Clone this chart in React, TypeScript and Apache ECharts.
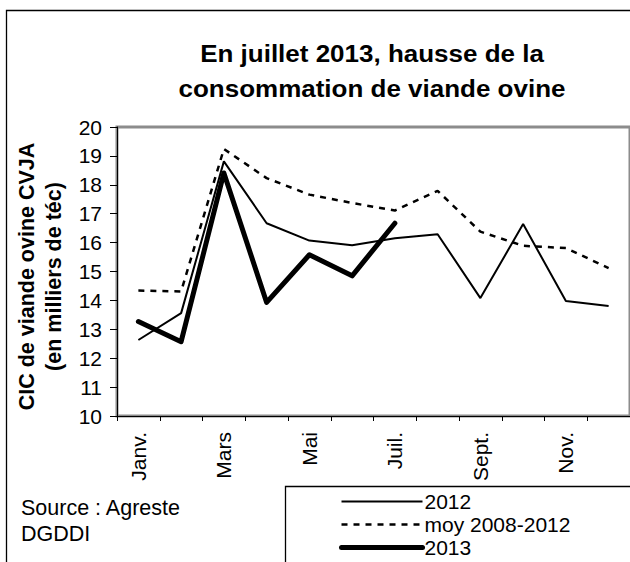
import React, { useEffect, useRef } from 'react';
import * as echarts from 'echarts';

const months = ['Janv.', 'Févr.', 'Mars', 'Avril', 'Mai', 'Juin', 'Juil.', 'Août', 'Sept.', 'Oct.', 'Nov.', 'Déc.'];
const values2012 = [12.63, 13.56, 18.81, 16.67, 16.07, 15.91, 16.15, 16.29, 14.08, 16.64, 13.98, 13.81];
const valuesMoy = [14.34, 14.31, 19.24, 18.23, 17.66, 17.37, 17.11, 17.79, 16.38, 15.89, 15.81, 15.12];
const values2013 = [13.27, 12.57, 18.41, 13.93, 15.58, 14.85, 16.67, null, null, null, null, null];
const seriesNames = ['2012', 'moy 2008-2012', '2013'];
const yMin = 10;
const yMax = 20;
const yStep = 1;
const titleLines = ['En juillet 2013, hausse de la', 'consommation de viande ovine'];
const yAxisTitle = ['CIC de viande ovine CVJA', '(en milliers de téc)'];
const sourceLines = ['Source : Agreste', 'DGDDI'];

const FONT = '"Liberation Sans", Arial, sans-serif';

export default function App() {
  const ref = useRef<HTMLDivElement>(null);
  useEffect(() => {
    const chart = echarts.init(ref.current!, null, { renderer: 'svg' });
    chart.setOption({
      animation: false,
      textStyle: { fontFamily: FONT, color: '#000' },
      grid: {
        left: 117, top: 127, width: 514, height: 289,
        show: true, borderColor: '#8c8c8c', borderWidth: 3, backgroundColor: '#fff',
      },
      xAxis: {
        type: 'category',
        data: months,
        boundaryGap: true,
        axisLine: { show: true, lineStyle: { color: '#000', width: 1 } },
        axisTick: { show: true, interval: 0, length: 5, lineStyle: { color: '#000' } },
        axisLabel: { interval: 1, rotate: 90, fontSize: 21, color: '#000', margin: 16, fontFamily: FONT },
        splitLine: { show: false },
      },
      yAxis: {
        type: 'value',
        min: yMin, max: yMax, interval: yStep,
        splitLine: { show: false },
        axisLine: { show: true, lineStyle: { color: '#000', width: 1 } },
        axisTick: { show: true, length: 7, lineStyle: { color: '#000' } },
        axisLabel: { fontSize: 21, color: '#000', margin: 15, fontFamily: FONT },
        name: yAxisTitle.join('\n'),
        nameLocation: 'middle',
        nameGap: 39,
        nameTextStyle: { fontSize: 21.5, fontWeight: 'bold', lineHeight: 27, color: '#000', fontFamily: FONT, padding: [0, 10, 0, 0] },
      },
      legend: {
        orient: 'vertical',
        left: 339, top: 490,
        padding: 0,
        itemGap: 0,
        itemWidth: 81, itemHeight: 10,
        itemStyle: { opacity: 0 },
        data: [
          { name: seriesNames[0], lineStyle: { width: 2 }, itemStyle: { opacity: 0 } },
          { name: seriesNames[1], lineStyle: { width: 2.5, type: [6, 6] }, itemStyle: { opacity: 0 } },
          { name: seriesNames[2], lineStyle: { width: 5, cap: 'round' }, itemStyle: { opacity: 0 } },
        ],
        textStyle: { fontSize: 21, color: '#000', lineHeight: 23, fontFamily: FONT, padding: [0, 0, 0, -3] },
      },
      graphic: [
        { type: 'rect', z: -10, silent: true, shape: { x: 6.5, y: 10.5, width: 700, height: 600 }, style: { fill: 'none', stroke: '#000', lineWidth: 1.3 } },
        { type: 'rect', z: -5, silent: true, shape: { x: 285.5, y: 486.5, width: 400, height: 100 }, style: { fill: '#fff', stroke: '#000', lineWidth: 1.3 } },
        { type: 'text', x: 372, y: 54, scaleX: 1.13, style: { text: titleLines[0], textAlign: 'center', textVerticalAlign: 'middle', font: `bold 23px ${FONT}`, fill: '#000' } },
        { type: 'text', x: 372, y: 89, scaleX: 1.13, style: { text: titleLines[1], textAlign: 'center', textVerticalAlign: 'middle', font: `bold 23px ${FONT}`, fill: '#000' } },
        { type: 'text', x: 21, y: 508, style: { text: sourceLines[0], textAlign: 'left', textVerticalAlign: 'middle', font: `21.5px ${FONT}`, fill: '#000' } },
        { type: 'text', x: 21, y: 534, style: { text: sourceLines[1], textAlign: 'left', textVerticalAlign: 'middle', font: `21.5px ${FONT}`, fill: '#000' } },
      ],
      series: [
        { name: seriesNames[0], type: 'line', data: values2012, symbol: 'none', lineStyle: { color: '#000', width: 2 }, itemStyle: { color: '#000' }, z: 3 },
        { name: seriesNames[1], type: 'line', data: valuesMoy, symbol: 'none', lineStyle: { color: '#000', width: 2.5, type: [6, 6] }, itemStyle: { color: '#000' }, z: 2 },
        { name: seriesNames[2], type: 'line', data: values2013, symbol: 'none', connectNulls: false, lineStyle: { color: '#000', width: 5, cap: 'round', join: 'round' }, itemStyle: { color: '#000' }, z: 4 },
      ],
    });
    return () => chart.dispose();
  }, []);
  return <div ref={ref} style={{ position: 'absolute', left: 0, top: 0, width: 630, height: 562 }} />;
}
